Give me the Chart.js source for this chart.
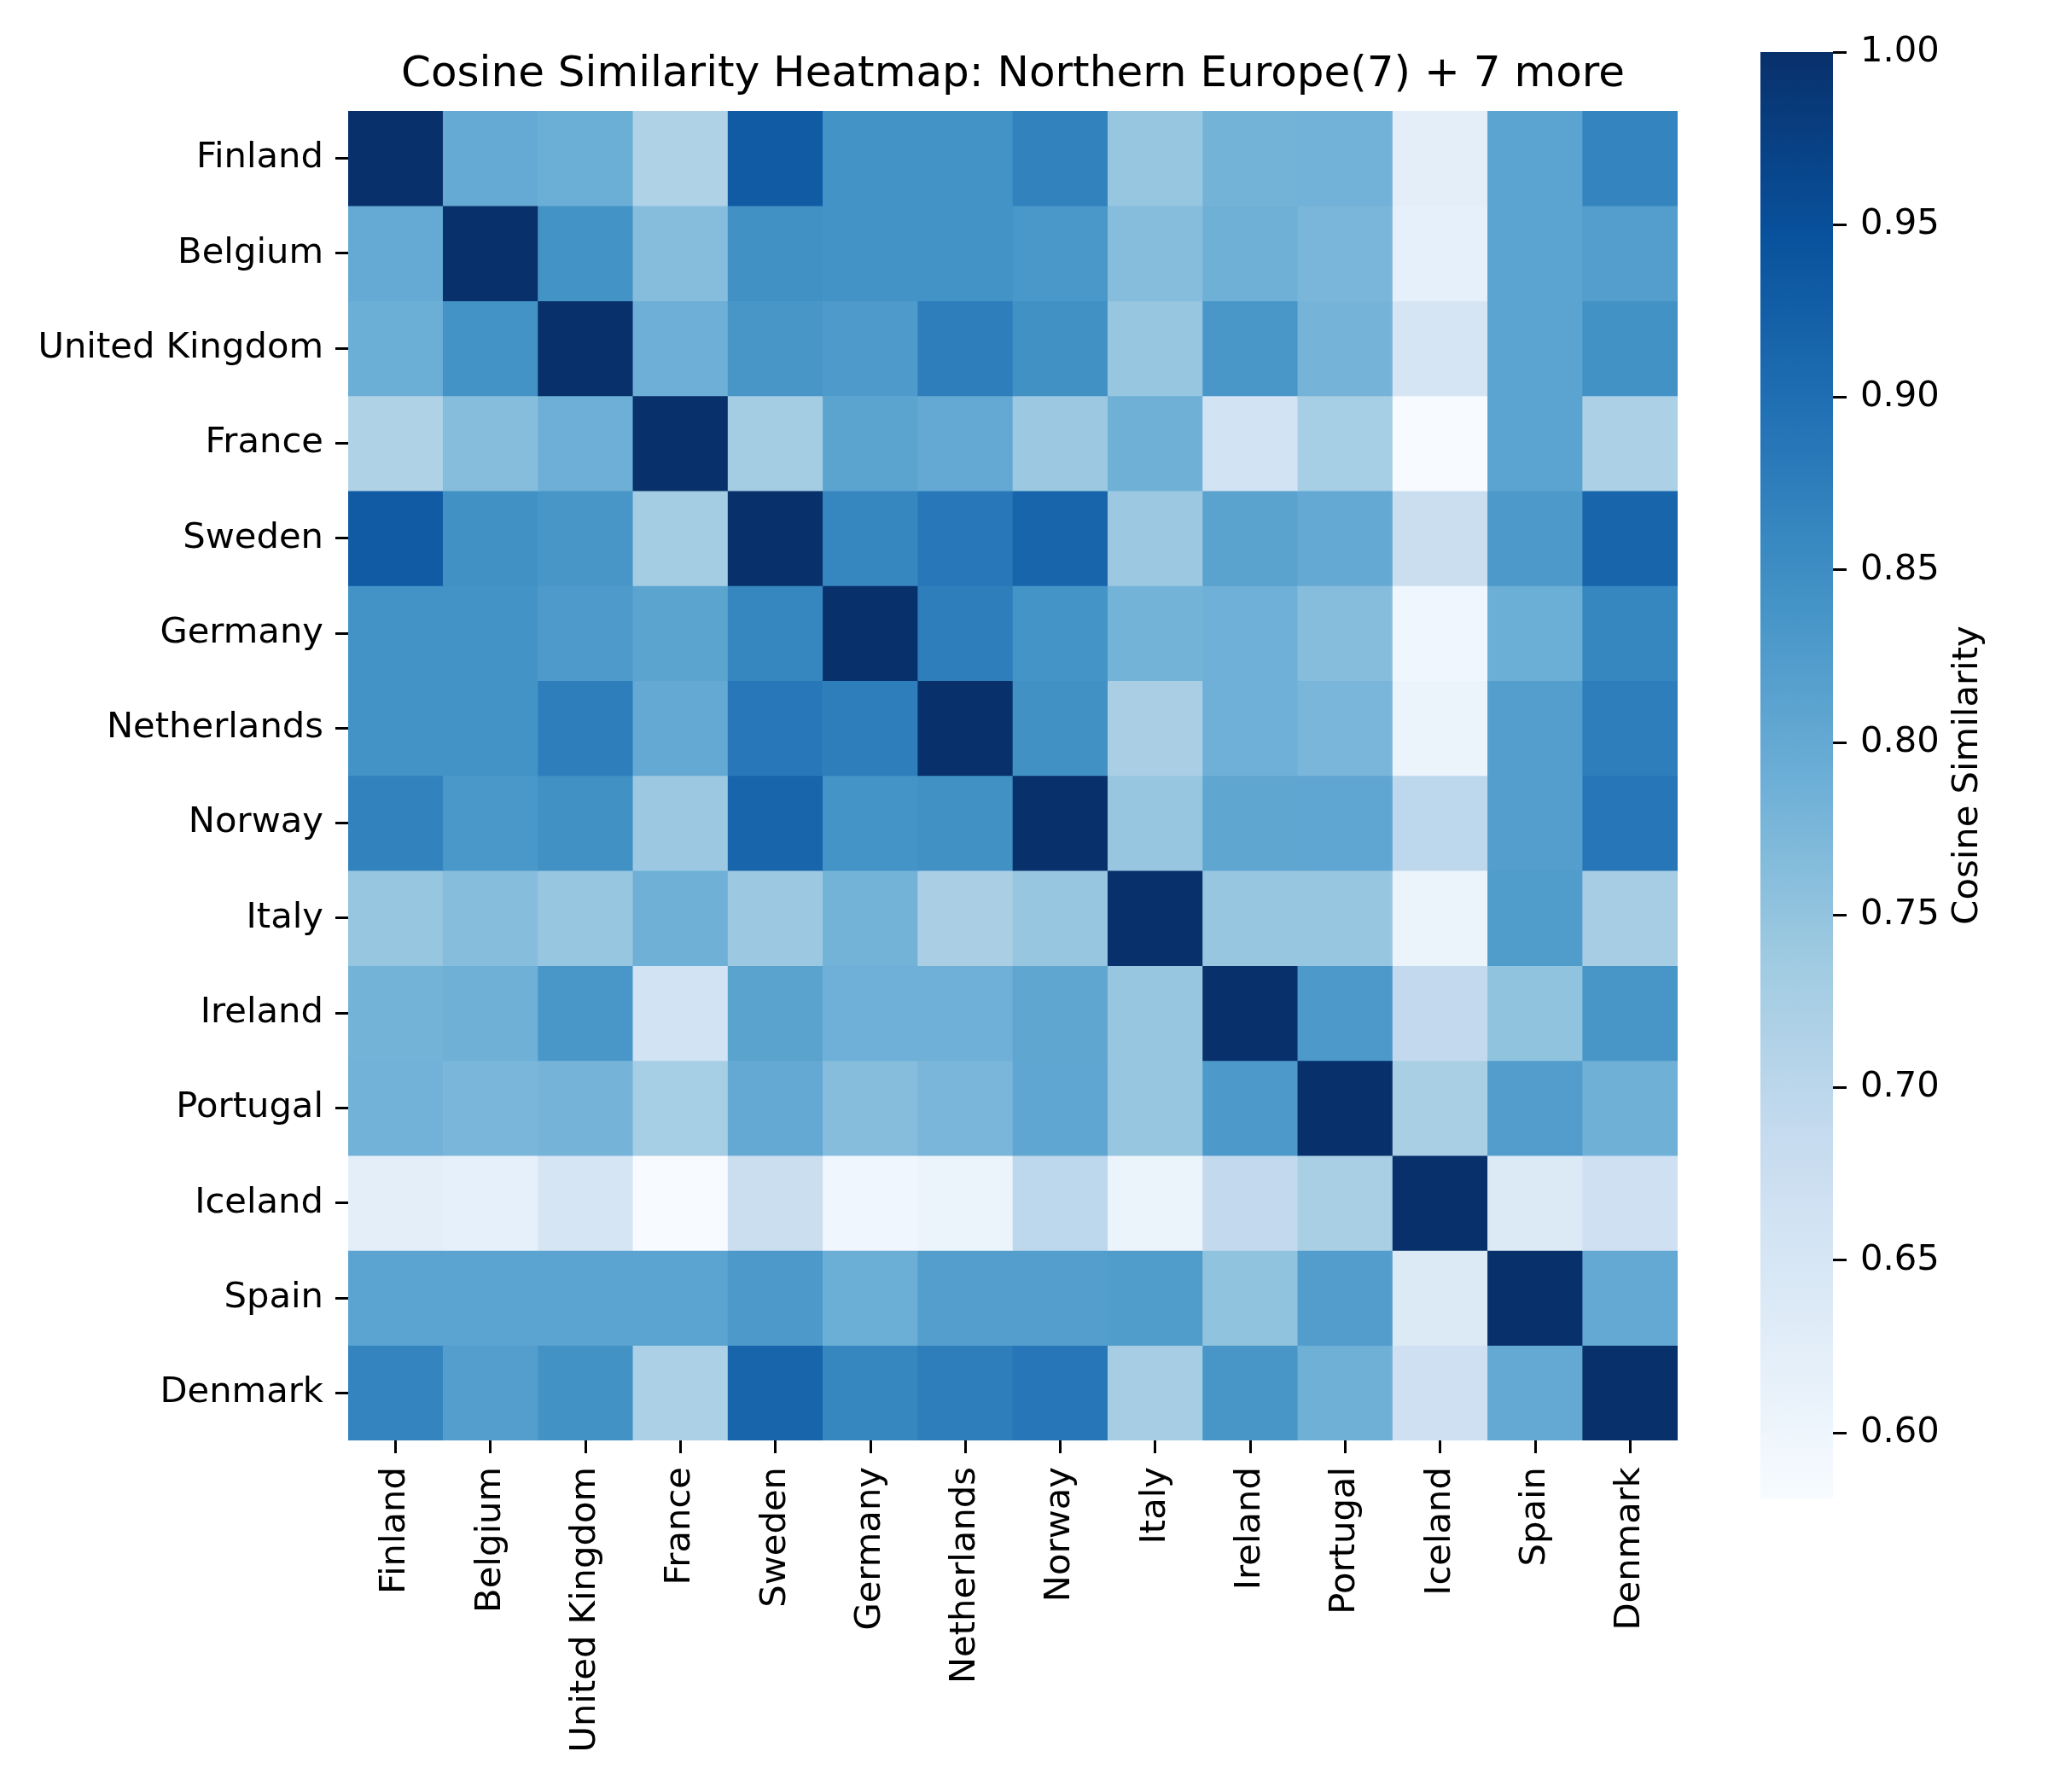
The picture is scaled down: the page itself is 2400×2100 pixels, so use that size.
<!DOCTYPE html>
<html>
<head>
  <meta charset="utf-8" />
  <script src="https://cdn.jsdelivr.net/npm/chart.js@4.4.0/dist/chart.umd.min.js"></script>
  <style>
    body { margin:0; background:#fff; width:2400px; height:2100px; position:relative; overflow:hidden; }
    #heatBox { position:absolute; left:0; top:0; width:2000px; height:2100px; }
    #barBox { position:absolute; left:2000px; top:0; width:400px; height:2100px; }
  </style>
</head>
<body>
  <div id="heatBox"><canvas id="heatChart"></canvas></div>
  <div id="barBox"><canvas id="cbarChart"></canvas></div>

<script>
// countries, same order on both axes
const countries = ["Finland","Belgium","United Kingdom","France","Sweden","Germany","Netherlands",
                   "Norway","Italy","Ireland","Portugal","Iceland","Spain","Denmark"];

// one row of the similarity matrix per country
const rowFinland     = [1.000,0.798,0.790,0.715,0.931,0.841,0.841,0.868,0.745,0.781,0.783,0.623,0.811,0.865];
const rowBelgium     = [0.798,1.000,0.841,0.762,0.845,0.841,0.841,0.833,0.762,0.786,0.775,0.617,0.811,0.820];
const rowUK          = [0.790,0.841,1.000,0.788,0.835,0.828,0.874,0.845,0.745,0.834,0.780,0.653,0.811,0.843];
const rowFrance      = [0.715,0.762,0.788,1.000,0.730,0.810,0.800,0.740,0.786,0.660,0.727,0.581,0.811,0.720];
const rowSweden      = [0.931,0.845,0.835,0.730,1.000,0.862,0.884,0.915,0.740,0.812,0.800,0.677,0.830,0.915];
const rowGermany     = [0.841,0.841,0.828,0.810,0.862,1.000,0.875,0.840,0.782,0.787,0.762,0.596,0.790,0.862];
const rowNetherlands = [0.841,0.841,0.874,0.800,0.884,0.875,1.000,0.845,0.722,0.787,0.775,0.606,0.820,0.875];
const rowNorway      = [0.868,0.833,0.845,0.740,0.915,0.840,0.845,1.000,0.745,0.806,0.805,0.698,0.820,0.885];
const rowItaly       = [0.745,0.762,0.745,0.786,0.740,0.782,0.722,0.745,1.000,0.745,0.745,0.605,0.825,0.728];
const rowIreland     = [0.781,0.786,0.834,0.660,0.812,0.787,0.787,0.806,0.745,1.000,0.830,0.690,0.752,0.835];
const rowPortugal    = [0.783,0.775,0.780,0.727,0.800,0.762,0.775,0.805,0.745,0.830,1.000,0.724,0.822,0.786];
const rowIceland     = [0.623,0.617,0.653,0.581,0.677,0.596,0.606,0.698,0.605,0.690,0.724,1.000,0.638,0.668];
const rowSpain       = [0.811,0.811,0.811,0.811,0.830,0.790,0.820,0.820,0.825,0.752,0.822,0.638,1.000,0.800];
const rowDenmark     = [0.865,0.820,0.843,0.720,0.915,0.862,0.875,0.885,0.728,0.835,0.786,0.668,0.800,1.000];

const cbarTicks = [0.60,0.65,0.70,0.75,0.80,0.85,0.90,0.95,1.00];

const matrix = [rowFinland,rowBelgium,rowUK,rowFrance,rowSweden,rowGermany,rowNetherlands,
                rowNorway,rowItaly,rowIreland,rowPortugal,rowIceland,rowSpain,rowDenmark];

const vmin = Math.min(...matrix.flat());
const vmax = Math.max(...matrix.flat());

// matplotlib "Blues"
const BLUES = ["#f7fbff","#deebf7","#c6dbef","#9ecae1","#6baed6","#4292c6","#2171b5","#08519c","#08306b"];
const FONT = "'DejaVu Sans', sans-serif";

function hexRgb(h) {
  return [parseInt(h.slice(1,3),16), parseInt(h.slice(3,5),16), parseInt(h.slice(5,7),16)];
}
function blues(v) {
  let t = (v - vmin) / (vmax - vmin);
  t = Math.max(0, Math.min(1, t));
  const p = t * (BLUES.length - 1);
  const i = Math.min(Math.floor(p), BLUES.length - 2);
  const f = p - i;
  const a = hexRgb(BLUES[i]), b = hexRgb(BLUES[i+1]);
  const c = a.map((x, k) => Math.round(x + (b[k] - x) * f));
  return `rgb(${c[0]},${c[1]},${c[2]})`;
}

Chart.defaults.font.family = FONT;
Chart.defaults.color = "#000";

const titlePlugin = {
  id: "heatTitle",
  afterDraw(chart) {
    const ctx = chart.ctx, a = chart.chartArea;
    ctx.save();
    ctx.font = "50px " + FONT;
    ctx.fillStyle = "#000";
    ctx.textAlign = "center";
    ctx.textBaseline = "middle";
    ctx.fillText("Cosine Similarity Heatmap: Northern Europe(7) + 7 more", (a.left + a.right) / 2, 88);
    ctx.restore();
  }
};

const heatData = {
  labels: countries,
  datasets: matrix.map((row, r) => ({
    label: countries[r],
    data: row.map(() => [r, r + 1]),
    backgroundColor: row.map(v => blues(v)),
    borderWidth: 0,
    barPercentage: 1.0,
    categoryPercentage: 1.0,
    grouped: false
  }))
};

new Chart(document.getElementById("heatChart"), {
  type: "bar",
  data: heatData,
  plugins: [titlePlugin],
  options: {
    responsive: true,
    maintainAspectRatio: false,
    animation: false,
    layout: { padding: { top: 130, right: 34, left: 0, bottom: 0 } },
    plugins: { legend: { display: false }, tooltip: { enabled: false } },
    scales: {
      x: {
        type: "category",
        offset: true,
        border: { display: false },
        grid: { drawOnChartArea: false, drawTicks: true, tickLength: 15, tickWidth: 3, color: "#000", offset: false },
        ticks: { minRotation: 90, maxRotation: 90, autoSkip: false, padding: 16, font: { size: 41.7 }, color: "#000" },
        afterFit: s => { s.height = 412; }
      },
      y: {
        type: "linear",
        min: 0,
        max: countries.length,
        reverse: true,
        border: { display: false },
        grid: { drawOnChartArea: false, drawTicks: true, tickLength: 15, tickWidth: 3, color: "#000" },
        afterBuildTicks: s => { s.ticks = countries.map((c, i) => ({ value: i + 0.5 })); },
        ticks: { padding: 14, autoSkip: false, font: { size: 41.7 }, color: "#000",
                 callback: (v, i) => countries[i] },
        afterFit: s => { s.width = 408; }
      }
    }
  }
});

// colour bar: gradient painted along the bar chart's own y scale
const gradientPlugin = {
  id: "cbarGradient",
  beforeDatasetsDraw(chart) {
    const ctx = chart.ctx, a = chart.chartArea, ys = chart.scales.y;
    const y0 = ys.getPixelForValue(vmin), y1 = ys.getPixelForValue(vmax);
    const g = ctx.createLinearGradient(0, y0, 0, y1);
    BLUES.forEach((c, i) => g.addColorStop(i / (BLUES.length - 1), c));
    ctx.save();
    ctx.fillStyle = g;
    ctx.fillRect(a.left, y1, a.right - a.left, y0 - y1);
    ctx.restore();
  },
  afterDraw(chart) {
    const ctx = chart.ctx, a = chart.chartArea;
    ctx.save();
    ctx.translate(306, (a.top + a.bottom) / 2);
    ctx.rotate(-Math.PI / 2);
    ctx.font = "41.7px " + FONT;
    ctx.fillStyle = "#000";
    ctx.textAlign = "center";
    ctx.textBaseline = "middle";
    ctx.fillText("Cosine Similarity", 0, 0);
    ctx.restore();
  }
};

new Chart(document.getElementById("cbarChart"), {
  type: "bar",
  data: { labels: [""], datasets: [{ data: [], backgroundColor: "transparent" }] },
  plugins: [gradientPlugin],
  options: {
    responsive: true,
    maintainAspectRatio: false,
    animation: false,
    layout: { padding: { top: 61, left: 63, right: 0, bottom: 344 } },
    plugins: { legend: { display: false }, tooltip: { enabled: false } },
    scales: {
      x: { display: false },
      y: {
        type: "linear",
        position: "right",
        min: vmin,
        max: vmax,
        border: { display: false },
        grid: { drawOnChartArea: false, drawTicks: true, tickLength: 16, tickWidth: 3, color: "#000" },
        afterBuildTicks: s => { s.ticks = cbarTicks.map(v => ({ value: v })); },
        ticks: { padding: 16, font: { size: 41.7 }, color: "#000", callback: v => v.toFixed(2) },
        afterFit: s => { s.width = 252; }
      }
    }
  }
});
</script>
</body>
</html>
